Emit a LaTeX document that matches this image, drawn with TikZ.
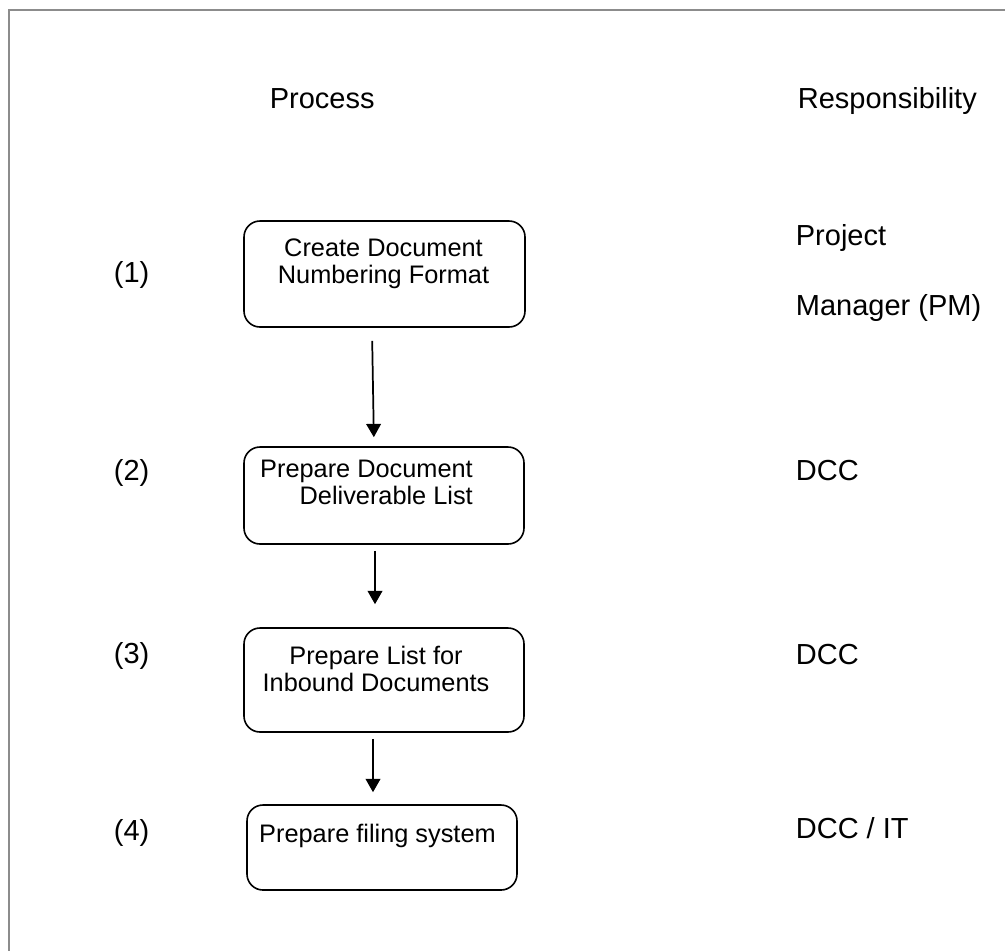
\documentclass[tikz,border=0pt]{standalone}
\usepackage{fontspec}
\setmainfont{Liberation Sans}
\usetikzlibrary{arrows.meta}
\definecolor{framegray}{RGB}{140,140,140}

\begin{document}
\begin{tikzpicture}[x=0.75pt,y=-0.75pt,->,>={Triangle[length=10pt,width=11pt]},line width=1.3pt]
			\tikzstyle{stepbox} = [rectangle,draw,rounded corners=12pt,line width=1.2pt,inner sep=0pt]
			\tikzstyle{steptext} = [inner sep=0pt,align=center,font=\fontsize{19}{20.25}\selectfont]
			\tikzstyle{heading} = [anchor=base west,inner sep=0pt,font=\fontsize{21.75}{26}\selectfont]
			
			\useasboundingbox (0,0) rectangle (1005,951);
			\draw[-,framegray,line width=2pt] (1005,10) -- (9,10) -- (9,951);
			
			\node[heading] (process) at (269,108) {Process};
			\node[heading] (resp) at (797,108) {Responsibility};
			
			\node[stepbox,minimum width=210.75pt,minimum height=79.5pt] (b1) at (384.5,274) {};
			\node[stepbox,minimum width=210pt,minimum height=72.75pt] (b2) at (384,495.5) {};
			\node[stepbox,minimum width=210pt,minimum height=78pt] (b3) at (384,680) {};
			\node[stepbox,minimum width=202.5pt,minimum height=63.75pt] (b4) at (382,847.5) {};
			
			\node[steptext] (t1) at (383.5,264) {Create Document\\Numbering Format};
			\node[steptext,align=right] (t2) at (366.5,482) {Prepare Document\\Deliverable List};
			\node[steptext] (t3) at (376,669) {Prepare List for\\Inbound Documents};
			\node[steptext] (t4) at (377.5,836) {Prepare filing system};
			
			\node[heading] (n1) at (113,282) {(1)};
			\node[heading] (n2) at (113,480) {(2)};
			\node[heading] (n3) at (113,663) {(3)};
			\node[heading] (n4) at (113,840) {(4)};
			
			\node[heading] (pm1) at (795,245) {Project};
			\node[heading] (pm2) at (795,315) {Manager (PM)};
			\node[heading] (r2) at (795,480) {DCC};
			\node[heading] (r3) at (795,664) {DCC};
			\node[heading] (r4) at (795,838) {DCC / IT};
			
			\path ([xshift=-9.4pt]b1.south) edge[shorten <=9.75pt,shorten >=6.75pt] ([xshift=-7.5pt]b2.north);
			\path ([xshift=-6.75pt]b2.south) edge[shorten <=4.5pt,shorten >=17.25pt] ([xshift=-6.75pt]b3.north);
			\path ([xshift=-8.25pt]b3.south) edge[shorten <=4.5pt,shorten >=9pt] ([xshift=-6.75pt]b4.north);
		\end{tikzpicture}
\end{document}
